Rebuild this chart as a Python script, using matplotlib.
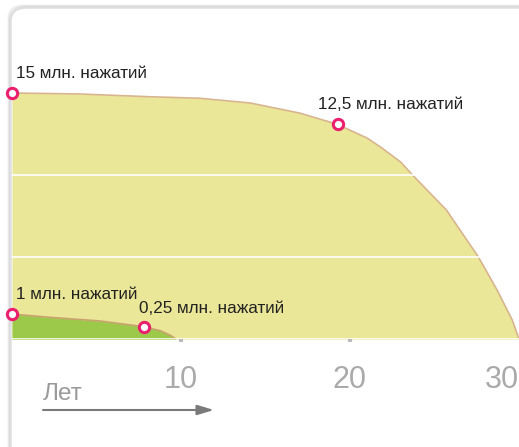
import matplotlib.pyplot as plt
from matplotlib.patches import FancyBboxPatch, FancyArrowPatch

plt.rcParams['font.family'] = ['Liberation Sans', 'DejaVu Sans']

# big curve (15 -> 12.5 mln presses), years vs value
big_x = [0, 4.0, 8.2, 11.1, 14.1, 17.0, 19.2, 21.0, 21.8, 23.0, 23.7, 25.7, 27.6, 28.7, 29.6, 30.0]
big_y = [15.0, 14.94, 14.77, 14.68, 14.39, 13.78, 13.11, 12.26, 11.71, 10.79, 10.0, 7.87, 5.0, 2.99, 1.16, 0.0]

# small curve (1 -> 0.25 mln presses)
small_x = [0, 2.25, 5.2, 7.8, 8.76, 9.35, 9.7]
small_y = [1.52, 1.32, 1.10, 0.75, 0.51, 0.24, 0.0]

# marked points and their labels
pts_x = [0, 19.3, 0, 7.8]
pts_y = [15.0, 13.1, 1.52, 0.75]
pts_lbl = ['15 млн. нажатий', '12,5 млн. нажатий', '1 млн. нажатий', '0,25 млн. нажатий']
pts_off = [(4, 12), (-20, 12), (4, 12), (-5, 11)]

xticks = [10, 20, 30]

fig = plt.figure(figsize=(5.19, 4.47), dpi=100)
fig.patch.set_facecolor('white')

# card background with a soft shadow
W, H = 519, 447
for i, a in enumerate([0.04, 0.07, 0.11]):
    sh = FancyBboxPatch(((11 - 3 + i) / W, -0.1), 1.2, (447 - 8 + 3 - i) / H + 0.1,
                        boxstyle='round,pad=0,rounding_size=0.03',
                        transform=fig.transFigure, facecolor='none',
                        edgecolor=(0, 0, 0, a), lw=1.2, zorder=-10)
    fig.patches.append(sh)
card = FancyBboxPatch((11 / W, -0.1), 1.2, (447 - 8) / H + 0.1,
                      boxstyle='round,pad=0,rounding_size=0.03',
                      transform=fig.transFigure, facecolor='white',
                      edgecolor='#dcdcdc', lw=1, zorder=-9)
fig.patches.append(card)

ax = fig.add_axes([12 / W, (447 - 339) / H, 507 / W, 328 / H])
ax.set_facecolor('none')
ax.set_xlim(0, 30)
ax.set_ylim(0, 20)

ax.fill_between(big_x, big_y, 0, color='#ebe798', lw=0, zorder=1)
ax.plot(big_x, big_y, color='#d8b58e', lw=1.2, zorder=2)
ax.fill_between(small_x, small_y, 0, color='#9dc94b', lw=0, zorder=3)
ax.plot(small_x, small_y, color='#c8a36e', lw=1.2, zorder=4)

for yv in [0, 5, 10]:
    ax.axhline(yv, color='white', lw=1.2, zorder=5)

ax.scatter(pts_x, pts_y, s=55, facecolor='white', edgecolor='#e8206e',
           linewidth=2.2, zorder=10, clip_on=False)
for x, y, t, off in zip(pts_x, pts_y, pts_lbl, pts_off):
    ax.annotate(t, (x, y), xytext=off, textcoords='offset pixels',
                fontsize=12.3, color='#222222', ha='left', va='bottom', zorder=11)

for s in ax.spines.values():
    s.set_visible(False)
ax.set_yticks([])
ax.set_xticks(xticks)
ax.set_xticklabels([str(t) for t in xticks])
ax.tick_params(axis='x', length=2, width=3, color='#bbbbbb', pad=17,
               labelsize=22, labelcolor='#aaaaaa')
ax.get_xticklabels()[-1].set_ha('right')
ax.xaxis.get_major_ticks()[-1].tick1line.set_visible(False)

fig.text(43 / W, 1 - 400 / H, 'Лет', fontsize=17.5, color='#9a9a9a', ha='left', va='baseline')
fig.add_artist(FancyArrowPatch(
    (43 / W, 1 - 410 / H), (214 / W, 1 - 410 / H), transform=fig.transFigure,
    arrowstyle='-|>,head_length=10,head_width=3', mutation_scale=1,
    shrinkA=0, shrinkB=0, color='#7a7a7a', lw=1.5))

fig.savefig('out.png', dpi=100)
